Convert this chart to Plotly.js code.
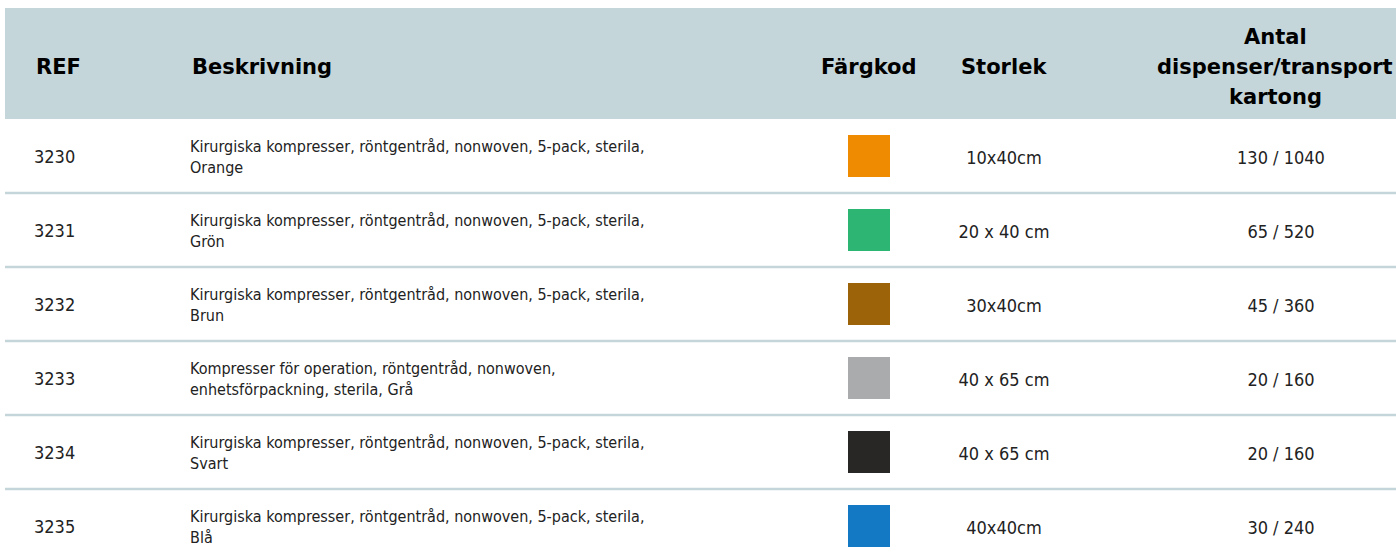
<!DOCTYPE html>
<html>
<head>
<meta charset="utf-8">
<script src="https://cdn.plot.ly/plotly-3.0.1.min.js"></script>
<style>
  html, body { margin: 0; padding: 0; background: #ffffff; }
  #chart { width: 1396px; height: 553px; }
</style>
</head>
<body>
<div id="chart"></div>
<script>
// ---- data ----
const headers = ["REF", "Beskrivning", "Färgkod", "Storlek"];
const countHeaderLines = ["Antal", "dispenser/transport", "kartong"];
const refs = ["3230", "3231", "3232", "3233", "3234", "3235"];
const descLine1 = [
  "Kirurgiska kompresser, röntgentråd, nonwoven, 5-pack, sterila,",
  "Kirurgiska kompresser, röntgentråd, nonwoven, 5-pack, sterila,",
  "Kirurgiska kompresser, röntgentråd, nonwoven, 5-pack, sterila,",
  "Kompresser för operation, röntgentråd, nonwoven,",
  "Kirurgiska kompresser, röntgentråd, nonwoven, 5-pack, sterila,",
  "Kirurgiska kompresser, röntgentråd, nonwoven, 5-pack, sterila,"
];
const descLine2 = ["Orange", "Grön", "Brun", "enhetsförpackning, sterila, Grå", "Svart", "Blå"];
const colorCodes = ["#ef8b00", "#2db574", "#9c6308", "#aaabad", "#282726", "#1479c4"];
const sizes = ["10x40cm", "20 x 40 cm", "30x40cm", "40 x 65 cm", "40 x 65 cm", "40x40cm"];
const counts = ["130 / 1040", "65 / 520", "45 / 360", "20 / 160", "20 / 160", "30 / 240"];

// ---- layout constants ----
const W = 1396, H = 553;
const headTop = 8, headBottom = 119, rowH = 74;
const colX = { ref: 34, desc: 190, color: 869, size: 1004, count: 1281, countHead: 1275 };
const bodyFamily = "DejaVu Sans Condensed, Liberation Sans Narrow, Arial, sans-serif";
const bodyFont = { family: bodyFamily, size: 16, color: "#222222" };
const numFont = { family: bodyFamily, size: 18, color: "#222222" };
const headFont = { family: "DejaVu Sans, Arial, sans-serif", size: 21, color: "#000000", weight: 700 };
const lineColor = "#c5d6db";

const rowCenter = refs.map((_, i) => headBottom + rowH * (i + 0.5) + 2);

const traces = [
  { type: "scatter", mode: "text", x: refs.map(() => colX.ref), y: rowCenter, text: refs,
    textposition: "middle right", textfont: numFont, hoverinfo: "skip", showlegend: false },
  { type: "scatter", mode: "text", x: descLine1.map(() => colX.desc), y: rowCenter.map(c => c - 10.5), text: descLine1,
    textposition: "middle right", textfont: bodyFont, hoverinfo: "skip", showlegend: false },
  { type: "scatter", mode: "text", x: descLine2.map(() => colX.desc), y: rowCenter.map(c => c + 10.5), text: descLine2,
    textposition: "middle right", textfont: bodyFont, hoverinfo: "skip", showlegend: false },
  { type: "scatter", mode: "markers", x: colorCodes.map(() => colX.color), y: rowCenter.map(c => c - 2),
    marker: { symbol: "square", size: 42, color: colorCodes, line: { width: 0 } }, hoverinfo: "skip", showlegend: false },
  { type: "scatter", mode: "text", x: sizes.map(() => colX.size), y: rowCenter.map(c => c + 1), text: sizes,
    textposition: "middle center", textfont: numFont, hoverinfo: "skip", showlegend: false },
  { type: "scatter", mode: "text", x: counts.map(() => colX.count), y: rowCenter.map(c => c + 1), text: counts,
    textposition: "middle center", textfont: numFont, hoverinfo: "skip", showlegend: false }
];

const shapes = [
  { type: "rect", xref: "x", yref: "y", x0: 5, x1: W, y0: headTop, y1: headBottom, fillcolor: lineColor, line: { width: 0 }, layer: "below" }
];
for (let i = 1; i < refs.length; i++) {
  const y = headBottom + rowH * i;
  shapes.push({ type: "line", xref: "x", yref: "y", x0: 5, x1: W, y0: y, y1: y, line: { color: lineColor, width: 2.5 }, layer: "below" });
}

const headY = (headTop + headBottom) / 2 + 3;
const headPos = [
  { x: colX.ref, anchor: "left" }, { x: colX.desc, anchor: "left" },
  { x: colX.color, anchor: "center" }, { x: colX.size, anchor: "center" }
];
const annotations = headers.map((h, i) => ({
  x: headPos[i].x, y: headY, xref: "x", yref: "y", text: h, showarrow: false,
  xanchor: headPos[i].anchor, yanchor: "middle", align: "center", font: headFont
}));
countHeaderLines.forEach((t, i) => {
  annotations.push({
    x: colX.countHead, y: headY + (i - 1) * 30, xref: "x", yref: "y", text: t, showarrow: false,
    xanchor: "center", yanchor: "middle", align: "center", font: headFont
  });
});

const layout = {
  width: W, height: H,
  margin: { l: 0, r: 0, t: 0, b: 0 },
  paper_bgcolor: "#ffffff", plot_bgcolor: "#ffffff",
  xaxis: { range: [0, W], visible: false, fixedrange: true },
  yaxis: { range: [H, 0], visible: false, fixedrange: true },
  shapes: shapes,
  annotations: annotations,
  showlegend: false
};

Plotly.newPlot("chart", traces, layout, { displayModeBar: false, staticPlot: true });
</script>
</body>
</html>
